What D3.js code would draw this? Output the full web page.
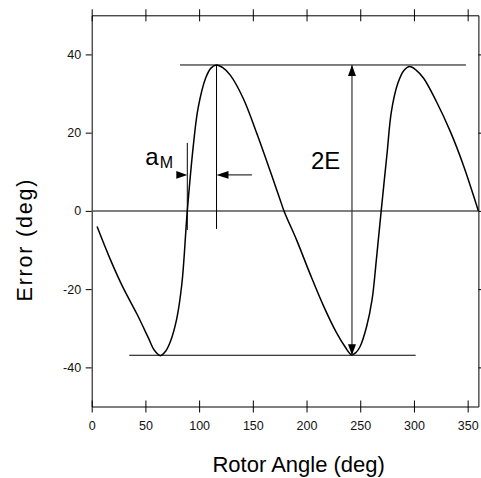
<!DOCTYPE html>
<html><head><meta charset="utf-8">
<script src="https://cdn.jsdelivr.net/npm/d3@7"></script>
<style>body{margin:0;background:#fff}svg{display:block}text{font-family:"Liberation Sans",Arial,sans-serif}</style>
</head><body>
<script>
// Data
const angles = [5,17,29,42,53,58,64,69,73,79,84,89,95,99,106,111,116,122,129,141,154,166,175,179,191,203,216,228,236,242,246,250,256,261,265,269.5,275,279,285,291,296,302,309,321,334,346,360];
const errors = [-4.0,-12.2,-19.5,-26.3,-32.6,-35.5,-37.0,-35.8,-33.6,-27.8,-18.5,0,17.7,26.2,33.9,36.5,37.3,36.6,34.7,28.8,19.6,10.3,3.2,0,-7.6,-15.9,-24.4,-31.2,-34.8,-36.8,-36.2,-34.6,-29.5,-22.7,-12.5,0,14.8,25.4,32.6,36.0,36.9,36.0,33.9,27.9,20.2,11.7,0];
const xTicks = [0,50,100,150,200,250,300,350];
const yTicks = [-40,-20,0,20,40];
const xDomain = [0,360];
const yDomain = [-50,50];
// annotation values (data units)
const peakLevel = 37.3, troughLevel = -36.9;
const peakLineSpan = [82.2, 348.4];
const troughLineSpan = [35, 301.6];
const twoEAngle = 242.3;
const peakAngle = 116.2, zeroAngle = 89.0;
const peakMarkerBottom = -4.6;
const zeroMarkerSpan = [17.4, -4.9];
const aMArrowLevel = 9.2, aMArrowTail = 149.2;
const xTitle = "Rotor Angle (deg)", yTitle = "Error (deg)";

const W = 481, H = 478;
const svg = d3.select("body").append("svg").attr("width", W).attr("height", H);
const x = d3.scaleLinear().domain(xDomain).range([91.7, 478.4]);
const y = d3.scaleLinear().domain(yDomain).range([406.5, 15.3]);
const fmt = d => String(d);

// bottom axis (crossing ticks)
const gb = svg.append("g").attr("transform", `translate(0,${y(yDomain[0])})`)
  .call(d3.axisBottom(x).tickValues(xTicks).tickFormat(fmt).tickSize(6).tickPadding(8.5).tickSizeOuter(0));
gb.selectAll(".tick line").attr("y1", -6).attr("y2", 6);
// top axis
const gt = svg.append("g").attr("transform", `translate(0,${y(yDomain[1])})`)
  .call(d3.axisTop(x).tickValues(xTicks).tickFormat("").tickSize(6).tickSizeOuter(0));
gt.selectAll(".tick line").attr("y1", -6).attr("y2", 6);
// left axis
svg.append("g").attr("transform", `translate(${x(xDomain[0])},0)`)
  .call(d3.axisLeft(y).tickValues(yTicks).tickFormat(fmt).tickSize(6).tickPadding(4.5).tickSizeOuter(0));
// right axis
svg.append("g").attr("transform", `translate(${x(xDomain[1])},0)`)
  .call(d3.axisRight(y).tickValues(yTicks).tickFormat("").tickSize(6).tickSizeOuter(0));

svg.selectAll(".tick text").attr("font-size", 12.5).attr("fill", "#111").style("font-family", '"Liberation Sans",Arial,sans-serif');
svg.selectAll(".domain, .tick line").attr("stroke", "#000").attr("stroke-width", 1);

// zero line
svg.append("line").attr("x1", x(xDomain[0])).attr("x2", x(xDomain[1]))
  .attr("y1", y(0)).attr("y2", y(0)).attr("stroke", "#555").attr("stroke-width", 1.5);

// curve
const pts = angles.map((a, i) => [a, errors[i]]);
svg.append("path").datum(pts)
  .attr("d", d3.line().x(d => x(d[0])).y(d => y(d[1])).curve(d3.curveCatmullRom.alpha(0.5)))
  .attr("fill", "none").attr("stroke", "#000").attr("stroke-width", 1.5);

const ln = (x1, y1, x2, y2, c = "#000", w = 1) => svg.append("line")
  .attr("x1", x1).attr("y1", y1).attr("x2", x2).attr("y2", y2).attr("stroke", c).attr("stroke-width", w);
const head = (tx, ty, dir, len = 11, half = 4) => {
  let p;
  if (dir === 'r') p = [[tx, ty], [tx - len, ty - half], [tx - len, ty + half]];
  if (dir === 'l') p = [[tx, ty], [tx + len, ty - half], [tx + len, ty + half]];
  if (dir === 'u') p = [[tx, ty], [tx - half, ty + len], [tx + half, ty + len]];
  if (dir === 'd') p = [[tx, ty], [tx - half, ty - len], [tx + half, ty - len]];
  svg.append("path").attr("d", "M" + p.join("L") + "Z").attr("fill", "#000");
};

// horizontal level lines
ln(x(peakLineSpan[0]), y(peakLevel), x(peakLineSpan[1]), y(peakLevel));
ln(x(troughLineSpan[0]), y(troughLevel), x(troughLineSpan[1]), y(troughLevel));
// 2E double arrow
ln(x(twoEAngle), y(peakLevel), x(twoEAngle), y(troughLevel), "#333", 1.2);
head(x(twoEAngle), y(peakLevel), 'u', 11, 4);
head(x(twoEAngle), y(troughLevel), 'd', 11, 4);
svg.append("text").attr("x", x(twoEAngle) - 41).attr("y", 169.3)
  .attr("font-size", 24).attr("fill", "#000").text("2E");

// aM marker lines
ln(x(peakAngle), y(peakLevel), x(peakAngle), y(peakMarkerBottom));
ln(x(zeroAngle), y(zeroMarkerSpan[0]), x(zeroAngle), y(zeroMarkerSpan[1]));
// arrows
head(x(zeroAngle), y(aMArrowLevel), 'r', 11, 3.8);
ln(x(peakAngle) + 8, y(aMArrowLevel), x(aMArrowTail), y(aMArrowLevel));
head(x(peakAngle), y(aMArrowLevel), 'l', 12, 3.8);
const aM = svg.append("text").attr("x", 145.3).attr("y", 165).attr("fill", "#000");
aM.append("tspan").attr("font-size", 24).text("a");
aM.append("tspan").attr("font-size", 16).attr("dy", 3).attr("dx", 1).text("M");

// axis titles
svg.append("text").attr("x", 298.7).attr("y", 472).attr("text-anchor", "middle")
  .attr("font-size", 22).attr("fill", "#000").text(xTitle);
svg.append("text").attr("transform", "translate(31.7,240.5) rotate(-90)").attr("text-anchor", "middle")
  .attr("font-size", 21.5).attr("fill", "#000").attr("textLength", 122).attr("lengthAdjust", "spacing").text(yTitle);
</script>
</body></html>
